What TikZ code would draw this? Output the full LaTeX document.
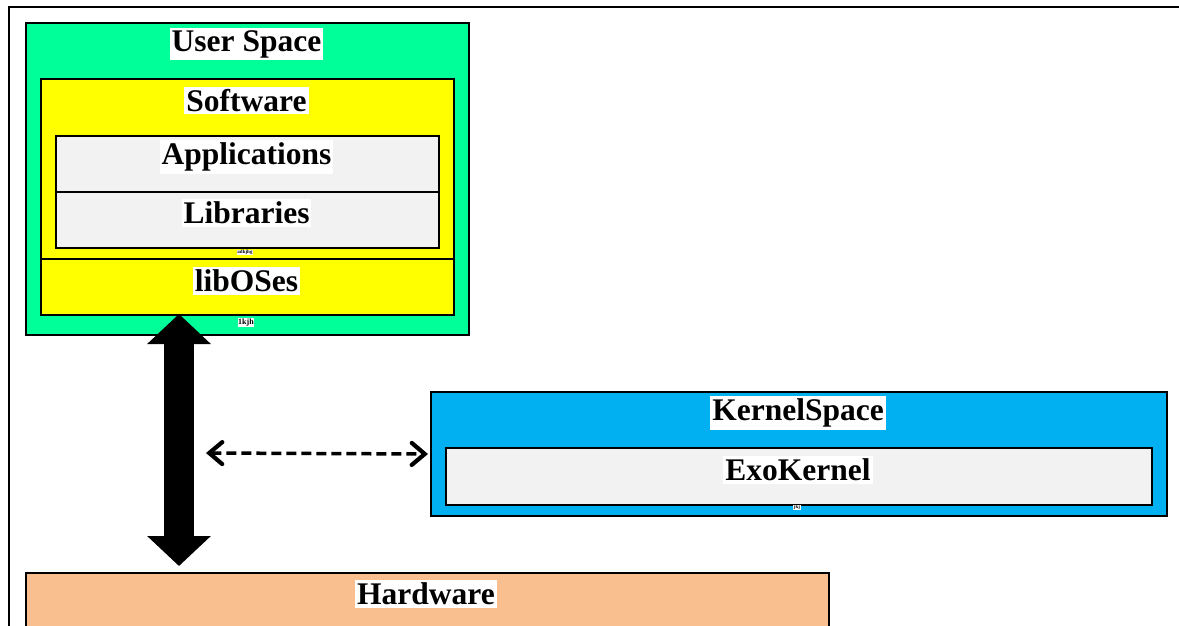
\documentclass[tikz,border=0pt]{standalone}
\usepackage{fontspec}
\setmainfont{Liberation Serif}
\usetikzlibrary{arrows.meta}
\definecolor{userspace}{RGB}{0,255,153}
\definecolor{softyellow}{RGB}{255,255,0}
\definecolor{layergray}{RGB}{242,242,242}
\definecolor{kernelblue}{RGB}{0,176,240}
\definecolor{hwpeach}{RGB}{250,191,143}
\tikzset{
  panel/.style={draw=black, line width=2pt, anchor=north west, inner sep=0pt},
  title/.style={fill=white, inner xsep=2pt, inner ysep=2.5pt,
    font=\fontsize{31.5}{32}\selectfont\bfseries},
  tag/.style={fill=white, inner sep=0.5pt, font=\fontsize{5}{5}\selectfont\bfseries},
  bigarrow/.style={line width=30pt, {Triangle[length=30pt,width=62pt]}-{Triangle[length=30pt,width=62pt]}},
  linkarrow/.style={line width=3.5pt, dash pattern=on 10pt off 5pt,
    {Straight Barb[length=13pt,width=22pt,line width=4.2pt,line cap=round]}-{Straight Barb[length=13pt,width=22pt,line width=4.2pt,line cap=round]}},
}
\begin{document}
\begin{tikzpicture}[x=1pt,y=-1pt]
\useasboundingbox (0,0) rectangle (1179,625);
\clip (0,0) rectangle (1179,625);
% outer frame, open to the right and bottom
\draw[line width=2pt] (9,700) -- (9,7) -- (1200,7);

% user space
\node[panel, fill=userspace, minimum width=443pt, minimum height=312pt] (user) at (25,22) {};
\node[panel, fill=softyellow, minimum width=413pt, minimum height=180pt] (soft) at (40,78) {};
\node[panel, fill=layergray, minimum width=383pt, minimum height=56pt] (apps) at (55,135) {};
\node[panel, fill=layergray, minimum width=383pt, minimum height=56pt] (libs) at (55,191) {};
\node[panel, fill=softyellow, minimum width=413pt, minimum height=56pt] (libos) at (40,258) {};
\node[title] (userlbl) at (246.5,44) {User Space};
\node[title] (softlbl) at (246.5,100.5) {Software};
\node[title] (appslbl) at (246.5,157) {Applications};
\node[title] (libslbl) at (246.5,213) {Libraries};
\node[title] (liboslbl) at (246.5,281) {libOSes};
\node[tag] (softtag) at (245,252.5) {adkjhg};
\node[tag, font=\fontsize{8}{8}\selectfont\bfseries] (usertag) at (246,322.5) {1kjh};

% kernel space
\node[panel, fill=kernelblue, minimum width=736pt, minimum height=124pt] (kernel) at (430,391) {};
\node[panel, fill=layergray, minimum width=706pt, minimum height=57pt] (exo) at (445,447) {};
\node[title] (kernellbl) at (798,413) {KernelSpace};
\node[title] (exolbl) at (798,470) {ExoKernel};
\node[tag] (kerneltag) at (797,507.5) {jkj};

% hardware
\node[panel, fill=hwpeach, minimum width=803pt, minimum height=80pt] (hw) at (25,572) {};
\node[title] (hwlbl) at (426,594) {Hardware};

% connectors
\coordinate (busTop) at (179,314);
\coordinate (busBottom) at (179,566);
\draw[bigarrow] (busTop) -- (busBottom);
\coordinate (linkEnd) at (206,453);
\draw[linkarrow] (linkEnd) -- ([xshift=-2pt]kernel.west);
\end{tikzpicture}
\end{document}
